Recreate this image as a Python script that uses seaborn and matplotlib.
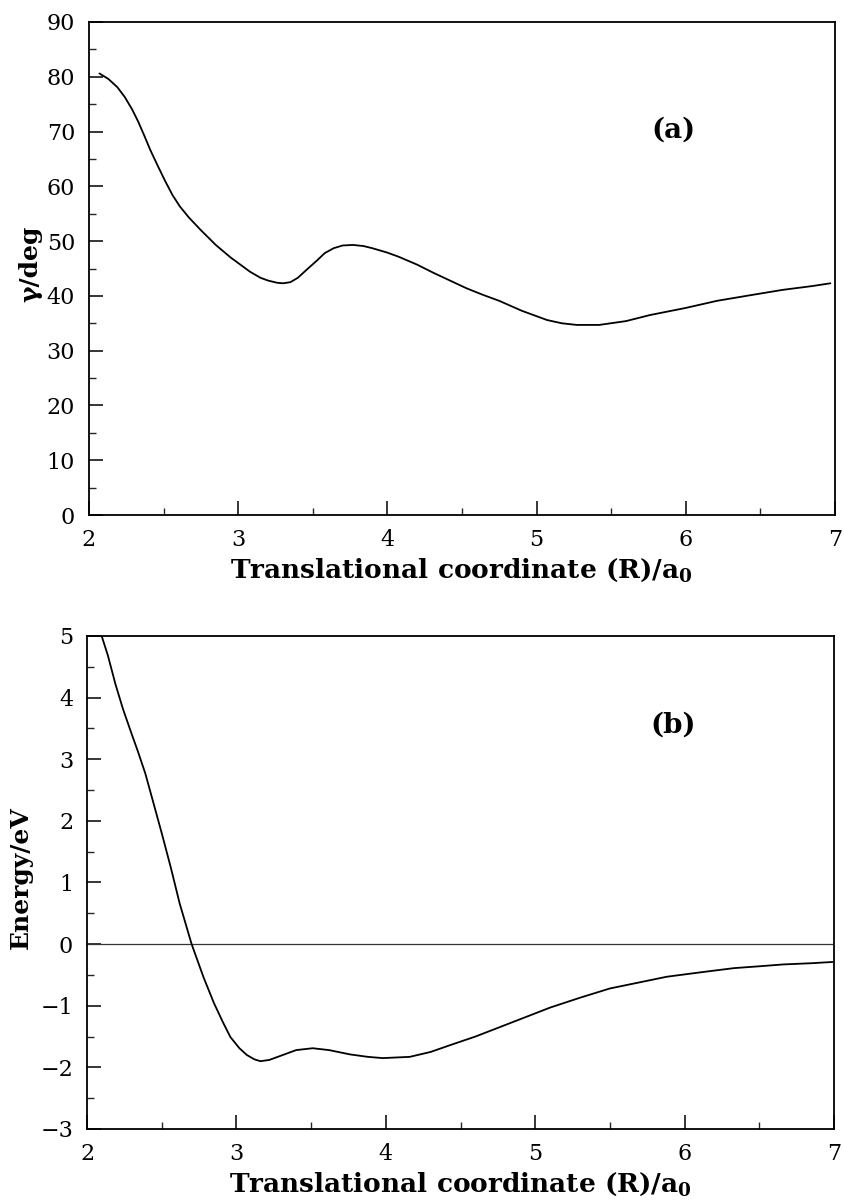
import matplotlib
matplotlib.use("Agg")
import matplotlib.pyplot as plt
from matplotlib.ticker import MultipleLocator
import seaborn as sns
import pandas as pd

# Panel (a): torsion angle gamma along the translational coordinate
r_gamma = [2.07, 2.13, 2.19, 2.24, 2.29, 2.33, 2.37, 2.41, 2.46, 2.51, 2.56, 2.61,
           2.67, 2.75, 2.85, 2.95, 3.02, 3.08, 3.15, 3.20, 3.26, 3.30, 3.35, 3.40,
           3.46, 3.53, 3.58, 3.64, 3.70, 3.77, 3.84, 3.90, 4.00, 4.08, 4.20, 4.31,
           4.42, 4.53, 4.64, 4.75, 4.90, 5.07, 5.17, 5.27, 5.42, 5.60, 5.76, 6.00,
           6.21, 6.45, 6.65, 6.85, 6.97]
gamma_deg = [80.6, 79.6, 78.1, 76.3, 74.0, 71.8, 69.3, 66.7, 63.8, 61.0, 58.4, 56.3,
             54.3, 52.0, 49.3, 47.0, 45.6, 44.4, 43.3, 42.8, 42.4, 42.3, 42.5, 43.3,
             44.8, 46.5, 47.8, 48.7, 49.2, 49.3, 49.1, 48.7, 47.9, 47.1, 45.7, 44.2,
             42.8, 41.4, 40.2, 39.1, 37.3, 35.6, 35.0, 34.7, 34.7, 35.4, 36.5, 37.8,
             39.1, 40.2, 41.1, 41.8, 42.3]

# Panel (b): potential energy along the same coordinate
r_energy = [2.098, 2.14, 2.19, 2.24, 2.29, 2.34, 2.39, 2.44, 2.50, 2.56, 2.62, 2.70,
            2.78, 2.85, 2.91, 2.96, 3.02, 3.07, 3.12, 3.16, 3.22, 3.31, 3.40, 3.51,
            3.62, 3.76, 3.88, 3.98, 4.16, 4.30, 4.43, 4.60, 4.76, 4.93, 5.10, 5.30,
            5.50, 5.70, 5.88, 6.10, 6.33, 6.50, 6.66, 6.85, 6.99]
energy_ev = [5.00, 4.68, 4.22, 3.82, 3.47, 3.13, 2.77, 2.33, 1.80, 1.25, 0.66, 0.00,
             -0.54, -0.96, -1.27, -1.51, -1.69, -1.80, -1.87, -1.90, -1.88, -1.80, -1.72,
             -1.69, -1.72, -1.79, -1.83, -1.85, -1.83, -1.75, -1.64, -1.50, -1.35, -1.19,
             -1.03, -0.87, -0.72, -0.62, -0.53, -0.46, -0.39, -0.36, -0.33, -0.31, -0.29]

x_ticks = [2, 3, 4, 5, 6, 7]
gamma_ticks = [0, 10, 20, 30, 40, 50, 60, 70, 80, 90]
energy_ticks = [-3, -2, -1, 0, 1, 2, 3, 4, 5]

sns.set_style("ticks")
plt.rcParams["font.family"] = ["DejaVu Serif"]
plt.rcParams["mathtext.fontset"] = "dejavuserif"
plt.rcParams["axes.unicode_minus"] = True
plt.rcParams["text.color"] = "black"
plt.rcParams["axes.labelcolor"] = "black"

fig = plt.figure(figsize=(8.45, 12), dpi=100)
ax1 = fig.add_axes([0.1053, 0.5708, 0.8827, 0.4109])
ax2 = fig.add_axes([0.1030, 0.0592, 0.8840, 0.4108])

df_a = pd.DataFrame({"R": r_gamma, "gamma": gamma_deg})
df_b = pd.DataFrame({"R": r_energy, "E": energy_ev})

sns.lineplot(data=df_a, x="R", y="gamma", ax=ax1, color="black", lw=1.3,
             estimator=None, sort=False)
ax2.axhline(0, color="#333333", lw=0.9)
sns.lineplot(data=df_b, x="R", y="E", ax=ax2, color="black", lw=1.3,
             estimator=None, sort=False)

xlabel = r"Translational coordinate (R)/a$_{\mathbf{0}}$"

for ax, yt, ylab, minor, lx in [(ax1, gamma_ticks, "γ/deg", 5, -0.079),
                                (ax2, energy_ticks, "Energy/eV", 0.5, -0.088)]:
    ax.set_xlim(2, 7)
    ax.set_ylim(yt[0], yt[-1])
    ax.set_xticks(x_ticks)
    ax.set_yticks(yt)
    ax.xaxis.set_minor_locator(MultipleLocator(0.5))
    ax.yaxis.set_minor_locator(MultipleLocator(minor))
    ax.tick_params(which="major", direction="in", length=10, width=1.1,
                   labelsize=16, pad=10, colors="black")
    ax.tick_params(which="minor", direction="in", length=5, width=1.0)
    ax.tick_params(top=False, right=False, which="both")
    for s in ax.spines.values():
        s.set_visible(True)
        s.set_linewidth(1.3)
        s.set_color("black")
    ax.set_xlabel(xlabel, fontsize=19, fontweight="bold", labelpad=4)
    ax.set_ylabel(ylab, fontsize=18, fontweight="bold", va="center")
    ax.yaxis.set_label_coords(lx, 0.51)

ax1.text(0.783, 0.781, "(a)", transform=ax1.transAxes, fontsize=20,
         fontweight="bold", ha="center", va="center")
ax2.text(0.784, 0.82, "(b)", transform=ax2.transAxes, fontsize=20,
         fontweight="bold", ha="center", va="center")

fig.savefig("out.png", dpi=100, facecolor="white")
